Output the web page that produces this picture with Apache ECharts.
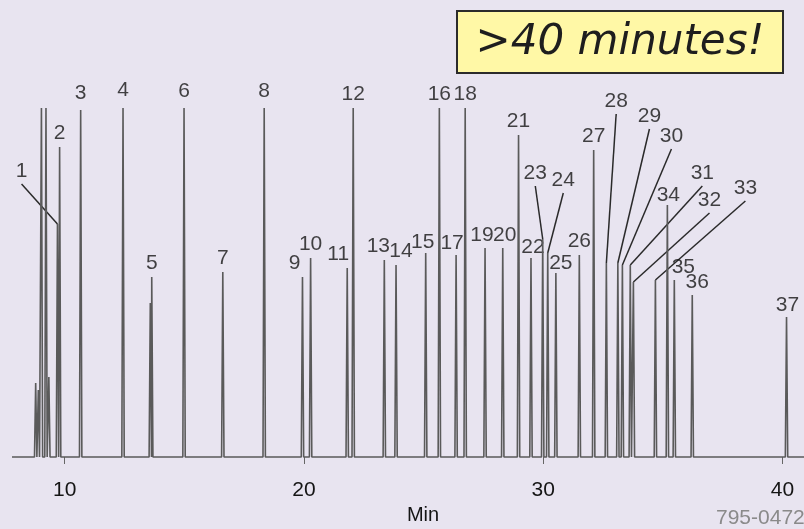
<!DOCTYPE html>
<html>
<head>
<meta charset="utf-8">
<script src="https://cdn.jsdelivr.net/npm/echarts@6/dist/echarts.min.js"></script>
<style>
html,body{margin:0;padding:0;background:#e8e4f0;}
#chart{width:804px;height:529px;}
</style>
</head>
<body>
<div id="chart"></div>
<script>
// Retention times (min)
const peakTimes = [8.79, 8.90, 9.03, 9.22, 9.34, 9.70, 9.79, 10.67, 12.44, 13.58, 13.64, 14.99, 16.61, 18.34,
  19.94, 20.28, 21.81, 22.06, 23.36, 23.85, 25.09, 25.66, 26.36, 26.74, 27.57, 28.31, 28.97, 29.49,
  29.98, 30.19, 30.53, 31.51, 32.11, 32.64, 33.12, 33.31, 33.64, 33.77, 34.69, 35.19, 35.48, 36.23, 40.17];
// Detector response (relative)
const peakHeights = [74, 67, 349, 349, 80, 233, 310, 347, 349, 154, 180, 349, 185, 349,
  180, 199, 189, 349, 197, 192, 204, 349, 202, 349, 209, 209, 322, 199,
  218, 204, 184, 202, 307, 194, 194, 192, 192, 175, 177, 252, 177, 162, 140];
// Peak numbers
const peakLabels = ['', '', '', '', '', '1', '2', '3', '4', '', '5', '6', '7', '8',
  '9', '10', '11', '12', '13', '14', '15', '16', '17', '18', '19', '20', '21', '22',
  '23', '24', '25', '26', '27', '28', '29', '30', '31', '32', '33', '34', '35', '36', '37'];
// x-axis tick labels
const tickValues = [10, 20, 30, 40];

// ---- layout (not data) ----
const labelShift = {'3':[0,-3],'4':[0,-4],'6':[0,-3],'8':[0,-3],'9':[-8,0],'11':[-9,0],'13':[-6,0],'14':[5,0],'15':[-3,3],
  '17':[-4,2],'19':[-3,1],'20':[2,1],'22':[2,3],'25':[5,4],'34':[1,4],'35':[9,1],'36':[5,1],'37':[1,2]};
const leaderLabelAt = {'1':[8.20,286],'23':[29.67,284],'24':[30.84,277],'28':[33.05,356],'29':[34.44,341],
  '30':[35.36,321],'31':[36.65,284],'32':[36.95,257],'33':[38.45,269]};

const HW = 0.05;
const trace = [[7.8, 0]];
peakTimes.forEach((t, i) => {
  trace.push([t - HW, 0], [t, peakHeights[i]], [t + HW, 0]);
});
trace.push([40.9, 0]);

const normalLabels = [], leaderLabels = [], leaderLines = [];
peakTimes.forEach((t, i) => {
  const lab = peakLabels[i];
  if (!lab) return;
  if (leaderLabelAt[lab]) {
    const a = leaderLabelAt[lab];
    leaderLabels.push({value: a, name: lab});
    leaderLines.push({coords: [[a[0], a[1] - 13], [t, peakHeights[i]]]});
  } else {
    const s = labelShift[lab] || [0, 0];
    normalLabels.push({value: [t, peakHeights[i]], name: lab, label: {offset: s}});
  }
});

const FONT = '"Liberation Sans", Arial, sans-serif';
const chart = echarts.init(document.getElementById('chart'), null, {renderer: 'canvas'});
chart.setOption({
  backgroundColor: '#e8e4f0',
  animation: false,
  grid: {left: 12, right: 0, top: 97, bottom: 72},
  xAxis: {
    type: 'value', min: 7.8, max: 40.9, offset: 8,
    axisLine: {show: false},
    axisTick: {show: true, length: 7, customValues: tickValues, lineStyle: {color: '#666', width: 1}},
    axisLabel: {customValues: tickValues, margin: 15, fontFamily: FONT, fontSize: 21, color: '#151515'},
    splitLine: {show: false}
  },
  yAxis: {type: 'value', min: 0, max: 360, show: false},
  series: [
    {
      type: 'line', data: trace, showSymbol: false, symbol: 'none', clip: false,
      lineStyle: {color: '#5a5a5a', width: 1.6}
    },
    {
      type: 'scatter', data: normalLabels, symbolSize: 0, silent: true,
      label: {show: true, position: 'top', distance: 4, formatter: p => p.name,
        fontFamily: FONT, fontSize: 21, lineHeight: 20, color: '#151515'}
    },
    {
      type: 'scatter', data: leaderLabels, symbolSize: 0, silent: true,
      label: {show: true, position: 'inside', formatter: p => p.name,
        fontFamily: FONT, fontSize: 21, lineHeight: 20, color: '#151515'}
    },
    {
      type: 'lines', coordinateSystem: 'cartesian2d', data: leaderLines, silent: true,
      lineStyle: {color: '#2a2a2a', width: 1.5, opacity: 1}
    }
  ],
  graphic: [
    {type: 'rect', shape: {x: 457, y: 11, width: 326, height: 62},
     style: {fill: '#fff8a6', stroke: '#2b2b2b', lineWidth: 2}},
    {type: 'text', x: 620, y: 43,
     style: {text: '>40 minutes!', font: 'italic 42px "DejaVu Sans", Verdana, sans-serif',
       fill: '#1e1e1e', textAlign: 'center', textVerticalAlign: 'middle'}},
    {type: 'text', x: 423, y: 515,
     style: {text: 'Min', font: '20px "Liberation Sans", Arial, sans-serif', fill: '#151515',
       textAlign: 'center', textVerticalAlign: 'middle'}},
    {type: 'text', x: 716, y: 518,
     style: {text: '795-0472', font: '21px "Liberation Sans", Arial, sans-serif', fill: '#8a8a8a',
       textAlign: 'left', textVerticalAlign: 'middle'}}
  ]
});
</script>
</body>
</html>
